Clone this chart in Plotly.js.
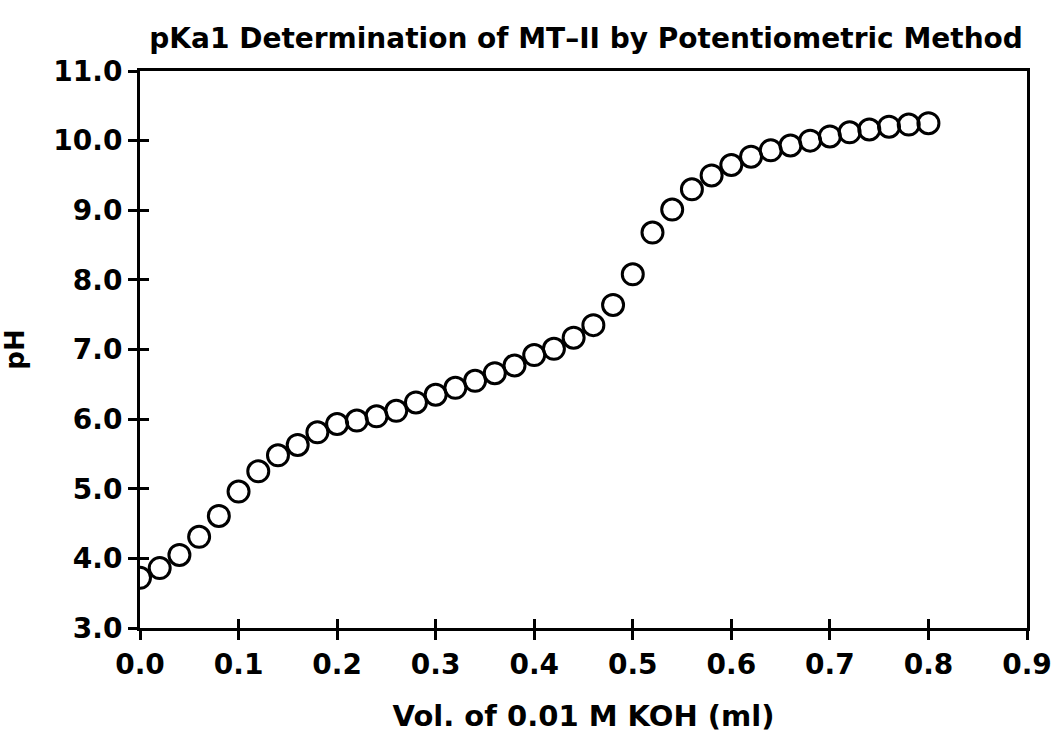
<!DOCTYPE html>
<html>
<head>
<meta charset="utf-8">
<script src="https://cdn.plot.ly/plotly-3.0.1.min.js"></script>
<style>html,body{margin:0;padding:0;background:#fff;}#chart{width:1056px;height:735px;}</style>
</head>
<body>
<div id="chart"></div>
<script>
// Volume of 0.01 M KOH added (ml)
const volume = [0.00,0.02,0.04,0.06,0.08,0.10,0.12,0.14,0.16,0.18,
                0.20,0.22,0.24,0.26,0.28,0.30,0.32,0.34,0.36,0.38,
                0.40,0.42,0.44,0.46,0.48,0.50,0.52,0.54,0.56,0.58,
                0.60,0.62,0.64,0.66,0.68,0.70,0.72,0.74,0.76,0.78,0.80];
// Measured pH
const pH = [3.72,3.86,4.05,4.31,4.61,4.96,5.25,5.48,5.63,5.81,
            5.93,5.98,6.04,6.12,6.24,6.35,6.45,6.55,6.66,6.77,
            6.92,7.01,7.17,7.35,7.64,8.08,8.68,9.01,9.30,9.50,
            9.65,9.77,9.86,9.93,10.00,10.06,10.12,10.16,10.20,10.23,10.25];
const xTicks = [0,0.1,0.2,0.3,0.4,0.5,0.6,0.7,0.8,0.9];
const xTickText = ['0.0','0.1','0.2','0.3','0.4','0.5','0.6','0.7','0.8','0.9'];
const yTicks = [3,4,5,6,7,8,9,10,11];
const yTickText = ['3.0','4.0','5.0','6.0','7.0','8.0','9.0','10.0','11.0'];

const FONT = '"DejaVu Sans", Lato, sans-serif';

const traces = [
  {
    x: volume, y: pH, type: 'scatter', mode: 'markers',
    marker: {symbol: 'circle-open', size: 21, color: '#000', line: {width: 3, color: '#000'}},
    hoverinfo: 'x+y', showlegend: false
  },
  {
    x: volume, y: pH, type: 'scatter', mode: 'markers', xaxis: 'x2', yaxis: 'y2',
    marker: {size: 1, opacity: 0}, hoverinfo: 'skip', showlegend: false
  }
];

const tickFont = {family: FONT, size: 28, color: '#000', weight: 'bold'};

const layout = {
  width: 1056, height: 735,
  margin: {l: 140, r: 29, t: 71, b: 107},
  paper_bgcolor: '#fff', plot_bgcolor: '#fff',
  title: {
    text: 'pKa1 Determination of MT\u2013II by Potentiometric Method',
    font: {family: FONT, size: 28, color: '#000', weight: 'bold'},
    x: 0.555, xanchor: 'center', y: 0.948, yanchor: 'middle'
  },
  xaxis: {
    range: [0, 0.9], tickvals: xTicks, ticktext: xTickText,
    ticks: 'outside', ticklen: 9, tickwidth: 3, tickcolor: '#000',
    showline: true, linewidth: 3, linecolor: '#000', mirror: true,
    showgrid: false, zeroline: false, tickfont: tickFont,
    title: {text: 'Vol. of 0.01 M KOH (ml)', font: {family: FONT, size: 29, color: '#000', weight: 'bold'}, standoff: 27}
  },
  yaxis: {
    range: [3, 11], tickvals: yTicks, ticktext: yTickText,
    ticks: 'outside', ticklen: 9, tickwidth: 3, tickcolor: '#000',
    showline: true, linewidth: 3, linecolor: '#000', mirror: true,
    showgrid: false, zeroline: false, tickfont: tickFont,
    title: {text: 'pH', font: {family: FONT, size: 26, color: '#000', weight: 'bold'}, standoff: 22}
  },
  xaxis2: {
    overlaying: 'x', range: [0, 0.9], tickvals: xTicks, showticklabels: false,
    ticks: 'inside', ticklen: 9, tickwidth: 3, tickcolor: '#000',
    showline: false, showgrid: false, zeroline: false, side: 'bottom'
  },
  yaxis2: {
    overlaying: 'y', range: [3, 11], tickvals: yTicks, showticklabels: false,
    ticks: 'inside', ticklen: 9, tickwidth: 3, tickcolor: '#000',
    showline: false, showgrid: false, zeroline: false, side: 'left'
  }
};

Plotly.newPlot('chart', traces, layout, {displayModeBar: false, staticPlot: true});
</script>
</body>
</html>
